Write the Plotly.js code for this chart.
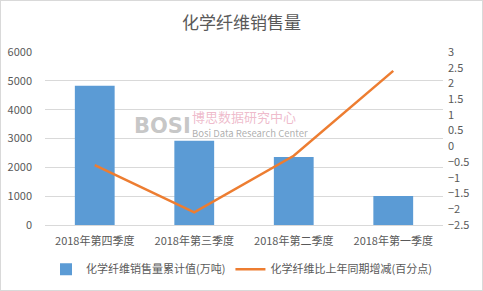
<!DOCTYPE html>
<html>
<head>
<meta charset="utf-8">
<script src="https://cdn.plot.ly/plotly-3.0.1.min.js"></script>
<style>
html,body{margin:0;padding:0;background:#fff;}
#chart{width:483px;height:291px;box-sizing:border-box;border:1px solid #d9d9d9;}
</style>
</head>
<body>
<div id="chart"></div>
<script>
const categories = ['2018年第四季度', '2018年第三季度', '2018年第二季度', '2018年第一季度'];
const salesValues = [4830, 2920, 2360, 1010];
const changeValues = [-0.6, -2.1, -0.3, 2.4];
const barName = '化学纤维销售量累计值(万吨)';
const lineName = '化学纤维比上年同期增减(百分点)';
const chartTitle = '化学纤维销售量';

const fontFam = '"Microsoft YaHei", "Noto Sans CJK SC", sans-serif';
const txt = '#595959';

const traces = [
  {
    type: 'bar', x: categories, y: salesValues, name: barName,
    marker: {color: '#5B9BD5'}, yaxis: 'y'
  },
  {
    type: 'scatter', mode: 'lines', x: categories, y: changeValues, name: lineName,
    line: {color: '#ED7D31', width: 2.5}, yaxis: 'y2'
  }
];

const layout = {
  width: 481, height: 289,
  margin: {l: 44, r: 39, t: 51, b: 65},
  paper_bgcolor: '#fff', plot_bgcolor: '#fff',
  font: {family: fontFam, size: 11, color: txt},
  title: {text: chartTitle, x: 0.5, xanchor: 'center', y: 0.925, yanchor: 'middle',
          font: {family: fontFam, size: 17, color: txt}},
  bargap: 0.6,
  showlegend: true,
  legend: {orientation: 'h', x: 0.5, xanchor: 'center', xref: 'container',
           y: 0.072, yanchor: 'middle', yref: 'container',
           font: {size: 11, color: txt}, itemwidth: 30, traceorder: 'normal'},
  xaxis: {type: 'category', showgrid: false, showline: true, linecolor: '#d9d9d9',
          ticks: '', tickfont: {size: 11, color: txt}, ticklabelstandoff: 6, fixedrange: true},
  yaxis: {range: [0, 6000], dtick: 1000, showgrid: true, gridcolor: '#d9d9d9',
          zeroline: false, showline: false, ticks: '', tickfont: {size: 11, color: txt},
          ticklabelstandoff: 12},
  yaxis2: {range: [-2.5, 3], dtick: 0.5, overlaying: 'y', side: 'right',
           showgrid: false, zeroline: false, showline: false, ticks: '',
           tickfont: {size: 11, color: txt}, ticklabelstandoff: 4},
  annotations: [
    {xref: 'paper', yref: 'paper', x: 0.295, y: 0.575, xanchor: 'center', yanchor: 'middle',
     text: '<b>BOSI</b>', showarrow: false, font: {family: 'DejaVu Sans', size: 21, color: 'rgba(150,150,150,0.55)'}},
    {xref: 'paper', yref: 'paper', x: 0.365, y: 0.625, xanchor: 'left', yanchor: 'middle',
     text: '博思数据研究中心', showarrow: false, font: {size: 13, color: 'rgba(225,130,160,0.55)'}},
    {xref: 'paper', yref: 'paper', x: 0.365, y: 0.53, xanchor: 'left', yanchor: 'middle',
     text: 'Bosi Data Research Center', showarrow: false, font: {size: 9.5, color: 'rgba(120,120,120,0.6)'}}
  ]
};

Plotly.newPlot('chart', traces, layout, {displayModeBar: false, staticPlot: true});
</script>
</body>
</html>
